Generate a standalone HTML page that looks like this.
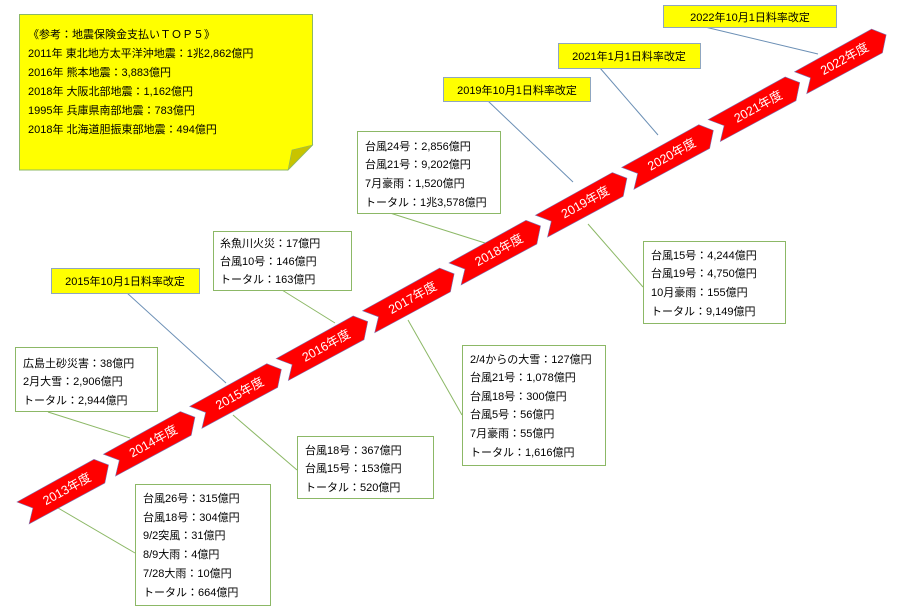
<!DOCTYPE html>
<html><head><meta charset="utf-8"><style>
html,body{margin:0;padding:0;background:#fff;width:903px;height:609px;overflow:hidden}
text{font-family:"Liberation Sans","Noto Sans CJK JP",sans-serif}
</style></head><body>
<svg width="903" height="609" viewBox="0 0 903 609" xmlns="http://www.w3.org/2000/svg">
<defs>
<g id="chev">
<polygon points="0,0 88,0 98,12 86,26 0,25 11,13" fill="#ff0000" stroke="#7a6fb0" stroke-width="0.6"/>
</g>
</defs>
<g stroke="#8cb866" stroke-width="1" fill="none">
<line x1="58" y1="508" x2="135" y2="553"/>
<line x1="48" y1="412" x2="130" y2="438"/>
<line x1="233" y1="415" x2="297" y2="470"/>
<line x1="282" y1="290" x2="335" y2="323"/>
<line x1="408" y1="320" x2="462" y2="415"/>
<line x1="390" y1="213" x2="485" y2="243"/>
<line x1="588" y1="224" x2="643" y2="287"/>
</g>
<g stroke="#6b8fb5" stroke-width="1" fill="none">
<line x1="127" y1="293" x2="226" y2="383"/>
<line x1="488" y1="101" x2="573" y2="182"/>
<line x1="600" y1="68" x2="658" y2="135"/>
<line x1="705" y1="27" x2="818" y2="54"/>
</g>
<g fill="#fff" font-size="12.5" text-anchor="middle">
<g transform="translate(17,502) rotate(-29)"><use href="#chev"/><text x="50" y="17">2013年度</text></g>
<g transform="translate(103.4,454.2) rotate(-29)"><use href="#chev"/><text x="50" y="17">2014年度</text></g>
<g transform="translate(189.8,406.4) rotate(-29)"><use href="#chev"/><text x="50" y="17">2015年度</text></g>
<g transform="translate(276.2,358.6) rotate(-29)"><use href="#chev"/><text x="50" y="17">2016年度</text></g>
<g transform="translate(362.6,310.8) rotate(-29)"><use href="#chev"/><text x="50" y="17">2017年度</text></g>
<g transform="translate(449,263) rotate(-29)"><use href="#chev"/><text x="50" y="17">2018年度</text></g>
<g transform="translate(535.4,215.2) rotate(-29)"><use href="#chev"/><text x="50" y="17">2019年度</text></g>
<g transform="translate(621.8,167.4) rotate(-29)"><use href="#chev"/><text x="50" y="17">2020年度</text></g>
<g transform="translate(708.2,119.6) rotate(-29)"><use href="#chev"/><text x="50" y="17">2021年度</text></g>
<g transform="translate(794.6,71.8) rotate(-29)"><use href="#chev"/><text x="50" y="17">2022年度</text></g>
</g>
<path d="M19.5,14.5 H312.5 V145 L288,170 H19.5 Z" fill="#ffff00" stroke="#8cb866"/>
<path d="M288,170 L292,150 L312.5,145 Z" fill="#c8c400" stroke="#8cb866" stroke-width="0.6"/>
<g font-size="11" fill="#000">
<text x="28" y="38">《参考：地震保険金支払いＴＯＰ５》</text>
<text x="28" y="57">2011年  東北地方太平洋沖地震：1兆2,862億円</text>
<text x="28" y="76">2016年  熊本地震：3,883億円</text>
<text x="28" y="95">2018年  大阪北部地震：1,162億円</text>
<text x="28" y="114">1995年  兵庫県南部地震：783億円</text>
<text x="28" y="133">2018年  北海道胆振東部地震：494億円</text>
</g>
<g fill="#ffff00" stroke="#8fa6c0">
<rect x="51.5" y="268.5" width="148" height="25"/>
<rect x="443.5" y="77.5" width="147" height="24"/>
<rect x="558.5" y="43.5" width="142" height="25"/>
<rect x="663.5" y="5.5" width="173" height="22"/>
</g>
<g font-size="11" fill="#000" text-anchor="middle">
<text x="125" y="285">2015年10月1日料率改定</text>
<text x="517" y="94">2019年10月1日料率改定</text>
<text x="629" y="60">2021年1月1日料率改定</text>
<text x="750" y="21">2022年10月1日料率改定</text>
</g>
<g fill="#fff" stroke="#8cb866">
<rect x="135.5" y="484.5" width="135" height="121"/>
<rect x="15.5" y="347.5" width="142" height="64"/>
<rect x="297.5" y="436.5" width="136" height="62"/>
<rect x="213.5" y="231.5" width="138" height="59"/>
<rect x="462.5" y="345.5" width="143" height="120"/>
<rect x="357.5" y="131.5" width="143" height="82"/>
<rect x="643.5" y="241.5" width="142" height="82"/>
</g>
<g font-size="11" fill="#000">
<text x="143" y="502">台風26号：315億円</text>
<text x="143" y="521">台風18号：304億円</text>
<text x="143" y="539">9/2突風：31億円</text>
<text x="143" y="558">8/9大雨：4億円</text>
<text x="143" y="577">7/28大雨：10億円</text>
<text x="143" y="596">トータル：664億円</text>
<text x="23" y="367">広島土砂災害：38億円</text>
<text x="23" y="385">2月大雪：2,906億円</text>
<text x="23" y="404">トータル：2,944億円</text>
<text x="305" y="454">台風18号：367億円</text>
<text x="305" y="472">台風15号：153億円</text>
<text x="305" y="491">トータル：520億円</text>
<text x="220" y="247">糸魚川火災：17億円</text>
<text x="220" y="265">台風10号：146億円</text>
<text x="220" y="283">トータル：163億円</text>
<text x="470" y="363">2/4からの大雪：127億円</text>
<text x="470" y="381">台風21号：1,078億円</text>
<text x="470" y="400">台風18号：300億円</text>
<text x="470" y="418">台風5号：56億円</text>
<text x="470" y="437">7月豪雨：55億円</text>
<text x="470" y="456">トータル：1,616億円</text>
<text x="365" y="150">台風24号：2,856億円</text>
<text x="365" y="168">台風21号：9,202億円</text>
<text x="365" y="187">7月豪雨：1,520億円</text>
<text x="365" y="206">トータル：1兆3,578億円</text>
<text x="651" y="259">台風15号：4,244億円</text>
<text x="651" y="277">台風19号：4,750億円</text>
<text x="651" y="296">10月豪雨：155億円</text>
<text x="651" y="315">トータル：9,149億円</text>
</g>
</svg>
</body></html>
